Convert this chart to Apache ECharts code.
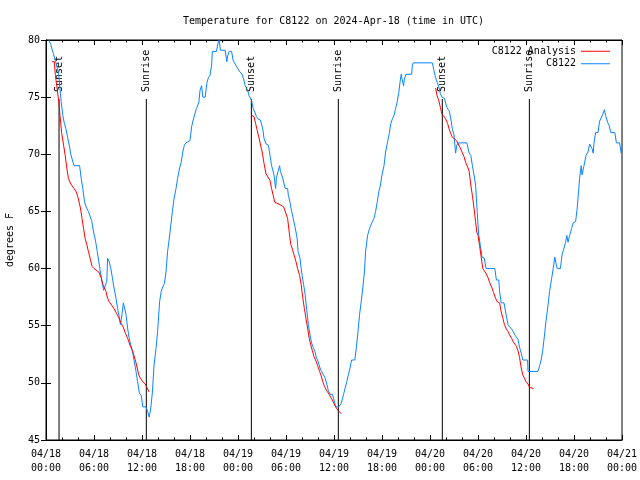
<!DOCTYPE html>
<html><head><meta charset="utf-8">
<script src="https://cdn.jsdelivr.net/npm/echarts@6/dist/echarts.min.js"></script>
<style>html,body{margin:0;padding:0;background:#fff}#c{width:640px;height:480px}</style>
</head><body><div id="c"></div>
<script>
const FONT = '"DejaVu Sans Mono", "Liberation Mono", monospace';
const titleText = 'Temperature for C8122 on 2024-Apr-18 (time in UTC)';
const yAxisName = 'degrees F';
const xTickLabels = ['04/18\n00:00','04/18\n06:00','04/18\n12:00','04/18\n18:00','04/19\n00:00','04/19\n06:00','04/19\n12:00','04/19\n18:00','04/20\n00:00','04/20\n06:00','04/20\n12:00','04/20\n18:00','04/21\n00:00'];
const sunEventHours = [1.63, 12.54, 25.67, 36.54, 49.54, 60.42];
const sunEventNames = ['Sunset','Sunrise','Sunset','Sunrise','Sunset','Sunrise'];
const sunLineTop = 74.84;

// observed temperature: [hours since 04/18 00:00 UTC, degrees F]
const obsC8122 = [[0.35,80.0],[0.6,79.6],[0.75,79.2],[0.92,78.8],[1.17,78.2],[1.4,77.6],[1.6,76.9],[1.75,75.7],[1.9,74.6],[2.1,73.4],[2.3,72.7],[2.5,72.2],[2.7,71.5],[2.9,70.8],[3.1,70.0],[3.3,69.5],[3.5,69.0],[4.2,69.0],[4.4,67.9],[4.6,67.0],[4.8,65.9],[5.0,65.4],[5.3,65.0],[5.5,65.0],[5.7,64.2],[5.95,63.2],[6.2,62.4],[6.4,61.5],[6.6,60.6],[6.8,59.7],[7.0,58.9],[7.2,58.1],[7.4,58.1],[7.6,58.9],[7.7,60.9],[7.9,60.6],[8.1,60.0],[8.3,59.2],[8.5,58.3],[8.75,57.4],[8.95,56.5],[9.15,55.8],[9.3,55.1],[9.5,56.0],[9.67,57.0],[9.9,57.0],[10.0,56.0],[10.2,54.8],[10.4,53.9],[10.6,53.3],[10.8,52.8],[11.0,52.0],[11.25,51.0],[11.45,50.1],[11.67,49.1],[11.9,48.9],[12.1,47.9],[12.5,47.9],[12.7,47.5],[12.9,47.0],[13.1,47.8],[13.3,49.2],[13.5,51.5],[13.75,53.0],[13.95,54.5],[14.2,57.1],[14.4,58.0],[14.6,58.4],[14.8,58.7],[15.0,59.7],[15.2,61.5],[15.4,62.6],[15.6,63.8],[15.8,65.0],[16.0,66.1],[16.25,67.0],[16.45,67.9],[16.7,68.8],[16.9,69.3],[17.1,70.2],[17.3,70.8],[17.5,71.0],[18.0,71.2],[18.2,72.4],[18.4,73.0],[18.6,73.1],[18.8,74.0],[19.1,74.5],[19.25,75.6],[19.45,76.0],[19.6,75.0],[19.9,75.0],[20.1,76.2],[20.3,76.7],[20.5,76.9],[20.7,77.8],[20.8,79.0],[21.3,79.0],[21.5,79.7],[21.65,80.0],[21.8,79.1],[22.4,79.1],[22.6,78.1],[22.7,78.6],[22.9,79.0],[23.2,79.0],[23.4,78.2],[23.8,77.7],[24.25,77.2],[24.5,77.0],[24.7,76.6],[24.9,76.0],[25.2,75.6],[25.4,75.1],[25.7,74.7],[25.9,74.0],[26.1,73.7],[26.3,73.3],[26.5,73.1],[26.8,73.0],[27.1,72.2],[27.25,71.4],[27.5,70.9],[27.8,70.8],[28.0,69.9],[28.2,69.0],[28.5,68.2],[28.7,67.0],[28.8,67.9],[29.0,68.5],[29.2,69.0],[29.3,68.5],[29.6,67.9],[29.9,67.0],[30.2,67.0],[30.3,66.4],[30.5,65.8],[30.7,65.0],[30.9,64.4],[31.25,63.2],[31.4,62.6],[31.5,61.5],[31.75,60.9],[31.95,59.7],[32.2,58.6],[32.4,57.7],[32.6,56.3],[32.8,55.1],[33.0,54.2],[33.2,53.5],[33.4,53.1],[33.6,52.8],[33.8,52.2],[34.0,51.9],[34.25,51.3],[34.45,51.0],[34.7,51.0],[34.9,50.4],[35.1,49.9],[35.3,49.3],[35.5,49.0],[35.8,49.0],[36.0,48.5],[36.2,47.9],[36.6,47.9],[36.9,48.2],[37.2,49.0],[37.4,49.1],[37.6,50.1],[37.8,50.7],[38.0,51.3],[38.2,52.0],[38.6,52.0],[38.8,53.1],[39.0,54.5],[39.2,56.0],[39.4,57.1],[39.6,58.3],[39.8,59.7],[39.95,61.5],[40.2,62.9],[40.4,63.4],[40.6,63.8],[40.8,64.1],[41.0,64.4],[41.2,65.0],[41.4,65.8],[41.6,66.7],[41.8,67.3],[42.0,68.2],[42.25,69.0],[42.45,70.2],[42.7,71.1],[42.9,71.8],[43.1,72.7],[43.3,73.1],[43.5,73.4],[43.7,74.0],[43.9,74.6],[44.1,75.4],[44.25,76.3],[44.4,77.0],[44.5,76.6],[44.7,76.0],[44.8,76.6],[45.0,77.0],[45.7,77.0],[45.8,77.8],[45.9,78.0],[48.3,78.0],[48.5,77.3],[48.7,76.7],[48.9,76.3],[49.1,75.9],[49.3,75.3],[49.5,75.0],[49.8,74.9],[50.1,74.1],[50.4,73.8],[50.6,73.1],[50.8,72.2],[51.0,71.7],[51.2,70.1],[51.35,70.8],[51.55,71.0],[52.6,71.0],[52.9,70.1],[53.1,69.9],[53.3,69.0],[53.5,68.2],[53.7,67.3],[53.9,65.0],[54.0,63.8],[54.1,62.9],[54.3,62.0],[54.5,61.0],[54.8,60.9],[55.0,60.0],[56.1,60.0],[56.3,59.0],[56.6,59.0],[56.7,58.0],[56.9,57.0],[57.25,57.0],[57.45,56.2],[57.7,56.1],[57.75,55.1],[57.95,54.9],[58.2,54.7],[58.4,54.5],[58.6,54.2],[58.8,54.1],[59.0,53.8],[59.2,53.1],[59.4,52.6],[59.6,52.0],[60.2,52.0],[60.25,51.0],[61.5,51.0],[61.7,51.5],[61.9,52.0],[62.1,52.9],[62.3,54.1],[62.5,55.4],[62.75,56.8],[62.95,58.0],[63.2,59.1],[63.4,60.0],[63.6,61.0],[63.8,60.3],[63.9,60.0],[64.3,60.0],[64.5,61.2],[64.75,61.8],[64.95,62.3],[65.1,62.9],[65.25,62.3],[65.45,62.9],[65.7,63.5],[65.9,64.0],[66.2,64.1],[66.4,65.3],[66.6,67.0],[66.7,67.9],[66.9,69.0],[67.0,68.2],[67.25,69.0],[67.5,69.9],[67.75,70.2],[67.95,70.9],[68.2,71.0],[68.25,70.5],[68.4,70.1],[68.5,71.0],[68.7,71.9],[69.0,71.9],[69.2,72.9],[69.4,73.0],[69.6,73.5],[69.8,73.9],[69.95,73.4],[70.2,72.8],[70.4,72.5],[70.6,71.9],[71.1,71.9],[71.3,71.0],[71.7,71.0],[71.9,70.1],[72.0,70.4]];

// analysis, one array per night
const analysisNight1 = [[0.75,78.1],[1.04,78.1],[1.17,76.9],[1.4,75.7],[1.6,74.6],[1.75,73.4],[1.95,71.9],[2.2,70.8],[2.4,69.9],[2.6,68.8],[2.8,67.9],[3.1,67.4],[3.5,67.0],[3.8,66.7],[4.05,66.1],[4.3,65.3],[4.5,64.4],[4.7,63.5],[4.9,62.6],[5.1,62.1],[5.3,61.5],[5.55,60.8],[5.75,60.2],[6.0,60.0],[6.25,59.9],[6.6,59.7],[6.9,59.2],[7.1,58.6],[7.3,58.3],[7.5,58.0],[7.7,57.4],[7.9,57.1],[8.2,56.8],[8.5,56.5],[8.8,56.1],[9.1,55.7],[9.4,55.2],[9.7,54.8],[9.9,54.4],[10.2,53.9],[10.5,53.3],[10.75,52.9],[10.95,52.5],[11.2,51.9],[11.4,51.3],[11.6,50.7],[11.8,50.4],[12.1,50.1],[12.4,49.9],[12.6,49.6],[12.9,49.2]];
const analysisNight2 = [[25.7,73.4],[26.0,73.3],[26.2,72.7],[26.4,72.1],[26.6,71.5],[26.8,70.9],[27.05,70.1],[27.25,69.2],[27.5,68.3],[27.75,68.0],[28.0,67.7],[28.2,67.0],[28.4,66.4],[28.6,65.8],[28.8,65.7],[29.25,65.6],[29.7,65.4],[29.95,65.3],[30.2,64.4],[30.4,63.2],[30.6,62.1],[30.8,61.7],[31.0,61.2],[31.25,60.6],[31.45,60.0],[31.7,59.4],[31.9,58.6],[32.1,57.4],[32.3,56.5],[32.5,55.6],[32.7,54.8],[32.9,53.9],[33.1,53.3],[33.3,52.8],[33.5,52.3],[33.75,51.9],[33.95,51.5],[34.2,51.0],[34.4,50.6],[34.6,50.1],[34.8,49.7],[35.1,49.3],[35.4,49.0],[35.7,48.6],[36.0,48.2],[36.2,47.9],[36.5,47.6],[36.9,47.3]];
const analysisNight3 = [[48.7,75.8],[48.9,75.1],[49.1,74.7],[49.3,74.1],[49.5,73.5],[49.75,73.3],[49.95,73.1],[50.2,72.7],[50.4,72.2],[50.6,71.8],[50.8,71.5],[51.0,71.4],[51.3,71.2],[51.55,71.1],[51.75,70.6],[52.0,70.2],[52.25,69.8],[52.45,69.3],[52.7,68.9],[52.9,68.5],[53.1,67.3],[53.3,66.4],[53.5,65.3],[53.7,64.1],[53.85,63.2],[54.0,62.9],[54.2,62.0],[54.4,61.0],[54.6,60.0],[54.9,59.7],[55.25,59.2],[55.5,58.7],[55.75,58.3],[55.95,57.9],[56.2,57.4],[56.4,57.1],[56.7,57.0],[56.9,56.2],[57.1,55.7],[57.3,55.1],[57.55,54.7],[57.75,54.5],[57.95,54.2],[58.2,53.9],[58.4,53.6],[58.6,53.5],[58.8,53.2],[59.0,52.8],[59.2,52.2],[59.4,51.3],[59.6,50.7],[59.8,50.4],[60.0,50.1],[60.25,49.9],[60.45,49.6],[60.7,49.5],[60.95,49.5]];

const RED = '#ff0000', BLUE = '#0a84ff';
const txt = {fontFamily: FONT, fontSize: 10, color: '#000'};

const series = [];
[analysisNight1, analysisNight2, analysisNight3].forEach(d => series.push({
  name: 'C8122 Analysis', type: 'line', data: d, symbol: 'none', color: RED,
  lineStyle: {color: RED, width: 1}, z: 3
}));
series.push({name: 'C8122', type: 'line', data: obsC8122, symbol: 'none', color: BLUE,
  lineStyle: {color: BLUE, width: 1}, z: 2});
sunEventHours.forEach((h, i) => series.push({
  name: sunEventNames[i], type: 'line', symbol: 'circle', symbolSize: 0, showSymbol: true,
  lineStyle: {color: '#000', width: 1}, itemStyle: {color: '#000'}, z: 1, silent: true,
  data: [[h, 45], {value: [h, sunLineTop], label: {show: true, formatter: sunEventNames[i],
    position: 'top', distance: 7, rotate: 90, align: 'left', verticalAlign: 'middle', ...txt}}]
}));

const tickAxisX = (pos, showLabel) => ({
  type: 'value', min: 0, max: 72, interval: 6, position: pos,
  axisLine: {show: true, lineStyle: {color: '#000', width: 1}},
  axisTick: {show: true, inside: true, length: 5, lineStyle: {color: '#000'}},
  minorTick: {show: true, splitNumber: 3, length: 2.5, lineStyle: {color: '#000'}},
  splitLine: {show: false},
  axisLabel: showLabel ? {formatter: v => xTickLabels[Math.round(v / 6)], margin: 7, lineHeight: 14, ...txt} : {show: false}
});
const tickAxisY = (pos, showLabel) => ({
  type: 'value', min: 45, max: 80, interval: 5, position: pos,
  axisLine: {show: true, lineStyle: {color: '#000', width: 1}},
  axisTick: {show: true, inside: true, length: 5, lineStyle: {color: '#000'}},
  splitLine: {show: false},
  axisLabel: showLabel ? {margin: 6, ...txt} : {show: false},
  name: showLabel ? yAxisName : '', nameLocation: 'middle', nameGap: 31, nameTextStyle: txt
});

const chart = echarts.init(document.getElementById('c'), null, {renderer: 'canvas'});
chart.setOption({
  animation: false,
  backgroundColor: '#fff',
  title: {text: titleText, left: 183, top: 16, padding: 0, textStyle: {...txt, fontWeight: 'normal'}},
  legend: {data: ['C8122 Analysis', 'C8122'], orient: 'vertical', right: 30, top: 45.5, align: 'right',
    padding: 0, icon: 'rect', itemWidth: 29, itemHeight: 1, itemGap: 1, textStyle: {...txt, lineHeight: 11.5}},
  grid: {left: 46, right: 18, top: 40, bottom: 40, show: true, borderColor: '#000', borderWidth: 1,
    containLabel: false, outerBoundsMode: 'none'},
  xAxis: [tickAxisX('bottom', true), tickAxisX('top', false)],
  yAxis: [tickAxisY('left', true), tickAxisY('right', false)],
  series: series
});
</script></body></html>
